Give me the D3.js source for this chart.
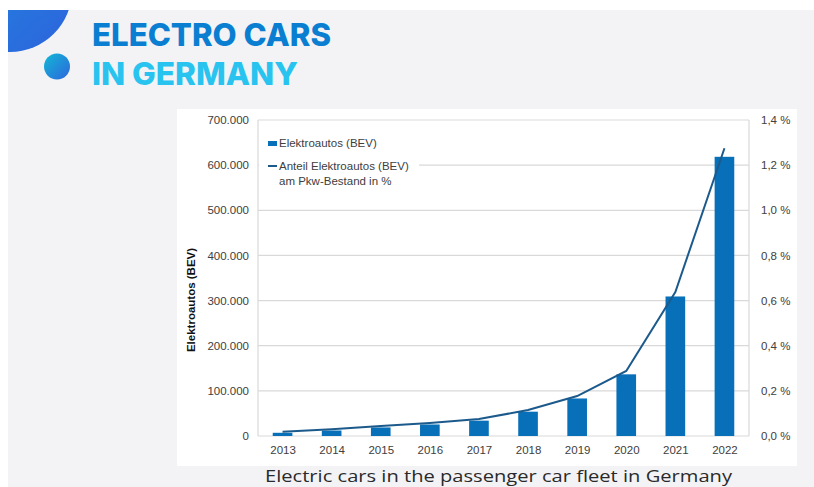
<!DOCTYPE html>
<html><head><meta charset="utf-8">
<script src="https://cdn.jsdelivr.net/npm/d3@7"></script>
<style>html,body{margin:0;padding:0;background:#fff;}svg{display:block;}</style>
</head><body>
<svg id="c" width="814" height="487"></svg>
<script>
const years = ["2013","2014","2015","2016","2017","2018","2019","2020","2021","2022"];
const bevCount = [7114, 12156, 18948, 25502, 34022, 53861, 83175, 136617, 309083, 618460];
const bevShare = [0.019, 0.03, 0.044, 0.058, 0.075, 0.115, 0.177, 0.288, 0.638, 1.275];
const leftTicks = [0, 100000, 200000, 300000, 400000, 500000, 600000, 700000];
const rightTicks = [0, 0.2, 0.4, 0.6, 0.8, 1.0, 1.2, 1.4];

const svg = d3.select("#c");
const defs = svg.append("defs");
const g1 = defs.append("linearGradient").attr("id","g1").attr("x1","0").attr("y1","0").attr("x2","1").attr("y2","1");
g1.append("stop").attr("offset","0").attr("stop-color","#1f8fe0");
g1.append("stop").attr("offset","1").attr("stop-color","#2d62dc");
const g2 = defs.append("linearGradient").attr("id","g2").attr("x1","0").attr("y1","0").attr("x2","1").attr("y2","1");
g2.append("stop").attr("offset","0").attr("stop-color","#12b8d6");
g2.append("stop").attr("offset","1").attr("stop-color","#2d66dc");
const clip = defs.append("clipPath").attr("id","bg");
clip.append("rect").attr("x",8).attr("y",10).attr("width",806).attr("height",477);

// page background
svg.append("rect").attr("x",8).attr("y",10).attr("width",806).attr("height",477).attr("fill","#f3f3f6");
svg.append("circle").attr("cx",10).attr("cy",-10).attr("r",62).attr("fill","url(#g1)").attr("clip-path","url(#bg)");
svg.append("circle").attr("cx",57).attr("cy",66.5).attr("r",13).attr("fill","url(#g2)");

svg.append("text").attr("x",92).attr("y",46).attr("font-family","Inter, 'Open Sans', sans-serif")
  .attr("font-weight",800).attr("font-size",31.5).attr("fill","#0a7fd2").attr("textLength",239).attr("lengthAdjust","spacingAndGlyphs").text("ELECTRO CARS");
svg.append("text").attr("x",92).attr("y",84.5).attr("font-family","Inter, 'Open Sans', sans-serif")
  .attr("font-weight",800).attr("font-size",31.5).attr("fill","#29c3f0").attr("textLength",206).attr("lengthAdjust","spacingAndGlyphs").text("IN GERMANY");

// chart panel
svg.append("rect").attr("x",177).attr("y",109).attr("width",620).attr("height",357).attr("fill","#fff");

const L = 258, R = 749, T = 120, B = 436;
const x = d3.scaleBand().domain(years).range([L, R]).paddingInner(0.6).paddingOuter(0.3);
const xc = d3.scalePoint().domain(years).range([L, R]).padding(0.5);
const y = d3.scaleLinear().domain([0, 700000]).range([B, T]);
const y2 = d3.scaleLinear().domain([0, 1.4]).range([B, T]);

const font = "'Liberation Sans', Arial, sans-serif";
// gridlines
svg.append("g").selectAll("line").data(leftTicks).join("line")
  .attr("x1",L).attr("x2",R).attr("y1",d=>y(d)).attr("y2",d=>y(d))
  .attr("stroke","#d9d9d9").attr("stroke-width",1.2);
svg.append("line").attr("x1",L).attr("x2",L).attr("y1",T).attr("y2",B).attr("stroke","#d9d9d9").attr("stroke-width",1.2);
svg.append("line").attr("x1",R).attr("x2",R).attr("y1",T).attr("y2",B).attr("stroke","#d9d9d9").attr("stroke-width",1.2);

// axes
const fmtL = d => d3.format(",")(d).replace(/,/g, ".");
const axL = svg.append("g").attr("transform",`translate(${L-9},0)`)
  .call(d3.axisLeft(y).tickValues(leftTicks).tickFormat(d => d === 0 ? "0" : fmtL(d)).tickSize(0).tickPadding(0));
const axR = svg.append("g").attr("transform",`translate(${R+12},0)`)
  .call(d3.axisRight(y2).tickValues(rightTicks).tickFormat(d => d3.format(".1f")(d).replace(".", ",") + " %").tickSize(0).tickPadding(0));
const axB = svg.append("g").attr("transform",`translate(0,${B+10})`)
  .call(d3.axisBottom(xc).tickSize(0).tickPadding(0));
[axL, axR, axB].forEach(a => {
  a.select(".domain").remove();
  a.selectAll("text").attr("font-family",font).attr("font-size",11.5).attr("fill","#404040");
});
axB.selectAll("text").attr("dy","0.71em");

svg.append("text").attr("transform",`translate(195,${(T+B)/2+22}) rotate(-90)`).attr("text-anchor","middle")
  .attr("font-family",font).attr("font-weight","bold").attr("font-size",11.5).attr("fill","#111").text("Elektroautos (BEV)");

// bars
svg.append("g").selectAll("rect").data(years).join("rect")
  .attr("x",d=>x(d)).attr("width",x.bandwidth())
  .attr("y",(d,i)=>y(bevCount[i])).attr("height",(d,i)=>B - y(bevCount[i]))
  .attr("fill","#0870b8");

// line
svg.append("path").datum(bevShare)
  .attr("d", d3.line().x((d,i)=>xc(years[i])).y(d=>y2(d)))
  .attr("fill","none").attr("stroke","#1c5a8c").attr("stroke-width",2);

// legend
svg.append("rect").attr("x",259).attr("y",130).attr("width",160).attr("height",62).attr("fill","#fff");
svg.append("rect").attr("x",268).attr("y",141).attr("width",9).attr("height",5).attr("fill","#0870b8");
svg.append("line").attr("x1",268).attr("x2",277).attr("y1",166).attr("y2",166).attr("stroke","#1c5a8c").attr("stroke-width",2);
const lg = svg.append("g").attr("font-family",font).attr("font-size",11.5).attr("fill","#404040");
lg.append("text").attr("x",279).attr("y",147).text("Elektroautos (BEV)");
lg.append("text").attr("x",279).attr("y",170).text("Anteil Elektroautos (BEV)");
lg.append("text").attr("x",279).attr("y",185).text("am Pkw-Bestand in %");

// caption
svg.append("text").attr("x",265).attr("y",481.5).attr("font-family","'Open Sans', sans-serif")
  .attr("font-size",17).attr("fill","#2a2a2a").attr("textLength",467).attr("lengthAdjust","spacingAndGlyphs")
  .text("Electric cars in the passenger car fleet in Germany");
</script>
</body></html>
